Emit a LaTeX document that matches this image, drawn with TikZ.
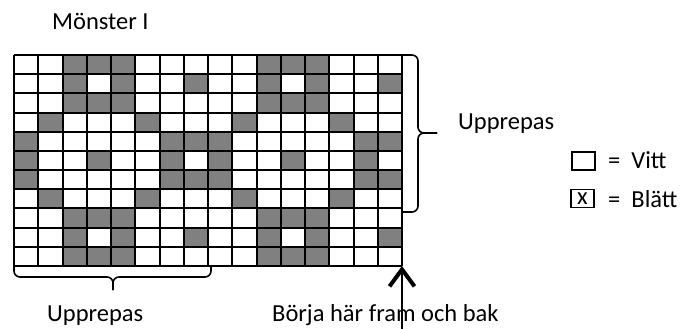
\documentclass[tikz,border=0pt]{standalone}
\usepackage{fontspec}
\setmainfont{Carlito}
\usetikzlibrary{arrows.meta}

\begin{document}
\begin{tikzpicture}[x=1pt,y=-1pt]
	\tikzstyle{every node}+=[inner sep=0pt,font=\fontsize{24.5}{28}\selectfont]
	\tikzstyle{gridline}=[black,line width=2pt]
	\tikzstyle{brace}=[black,line width=1.6pt,rounded corners=6pt]
	\tikzstyle{blatt}=[fill=black!50]
	\tikzstyle{keybox}=[draw=black,line width=1.8pt,minimum width=23pt,minimum height=18pt]
	\useasboundingbox (0,0) rectangle (682,329);
	% monstret, rad for rad
	\foreach \r/\cols in {1/{3,4,5,11,12,13},2/{3,5,8,11,13,16},3/{3,4,5,11,12,13},
	  4/{2,6,10,14},5/{1,7,8,9,15,16},6/{1,4,7,9,12,15},7/{1,7,8,9,15,16},
	  8/{2,6,10,14},9/{3,4,5,11,12,13},10/{3,5,8,11,13,16},11/{3,4,5,11,12,13}}
	  \foreach \c in \cols
	    \fill [blatt] ({14+(\c-1)*24.25},{55+(\r-1)*19.18}) rectangle ++(24.25,19.18);
	\foreach \i in {0,...,16}
	  \draw [gridline] ({14+\i*24.25},55) -- ({14+\i*24.25},266);
	\foreach \j in {0,...,11}
	  \draw [gridline] (14,{55+\j*19.18}) -- (402,{55+\j*19.18});
	\coordinate (nw) at (14,55);
	\coordinate (ne) at (402,55);
	\coordinate (sw) at (14,266);
	\coordinate (se) at (402,266);
	% klammer till hoger
	\coordinate (rbot) at (402,212);
	\coordinate (rtip) at (437,133);
	\draw [brace] (ne) -- (418,55) -- (418,133) -- (rtip);
	\draw [brace] (rtip) -- (418,133) -- (418,212) -- (rbot);
	\node [anchor=base west] (upphoger) at (458,129) {Upprepas};
	% klammer under
	\coordinate (bend) at (211,266);
	\coordinate (btip) at (113,290);
	\draw [brace] (sw) -- (14,277) -- (113,277) -- (btip);
	\draw [brace] (btip) -- (113,277) -- (211,277) -- (bend);
	\node [anchor=base west] (uppunder) at (47,321) {Upprepas};
	% start
	\coordinate (pil) at (402,329);
	\draw [black,line width=1.6pt,-{Straight Barb[length=17pt,width=25pt,line width=4pt]}] (pil) -- (se);
	\node [anchor=base west] (borja) at (272,321) {Börja här fram och bak};
	\node [anchor=base west] (titel) at (52,30) {Mönster I};
	% teckenforklaring
	\node [keybox] (vitt) at (583.5,161) {};
	\node [anchor=base west] (vittxt) at (608,168) {=~~Vitt};
	\node [keybox] (blatt) at (582.5,198.5) {x};
	\node [anchor=base west] (blattxt) at (608,207) {=~~Blätt};
\end{tikzpicture}
\end{document}
